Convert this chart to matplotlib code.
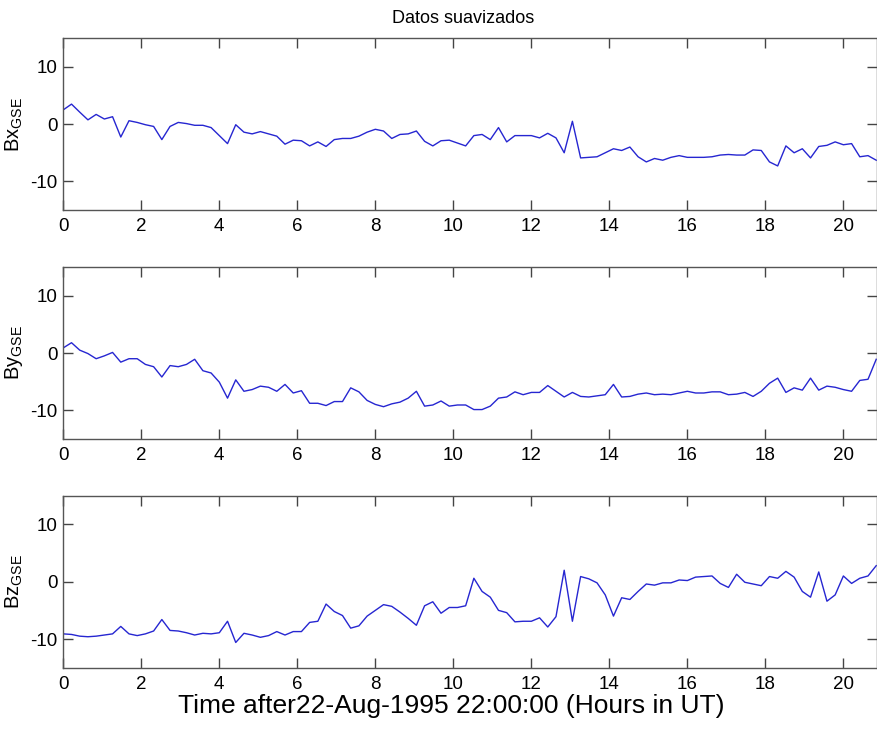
import numpy as np
import matplotlib
matplotlib.use("Agg")
import matplotlib.pyplot as plt

plt.rcParams['font.family'] = ['Liberation Sans', 'DejaVu Sans']
plt.rcParams['mathtext.fontset'] = 'custom'
plt.rcParams['mathtext.rm'] = 'Liberation Sans'
plt.rcParams['mathtext.it'] = 'Liberation Sans'
plt.rcParams['axes.unicode_minus'] = False

# Sampling grid (hours after start), 100 samples
hours = np.linspace(0.0, 20.85, 100)

bx = [2.5, 3.5, 2.1, 0.75, 1.7, 0.9, 1.3, -2.25, 0.6, 0.3,
      -0.1, -0.4, -2.7, -0.4, 0.3, 0.1, -0.2, -0.2, -0.6, -2.0,
      -3.4, -0.1, -1.4, -1.7, -1.3, -1.7, -2.1, -3.5, -2.8, -2.9,
      -3.8, -3.1, -3.9, -2.7, -2.5, -2.5, -2.1, -1.4, -0.9, -1.2,
      -2.5, -1.8, -1.7, -1.2, -3.0, -3.8, -2.9, -2.8, -3.3, -3.8,
      -2.0, -1.8, -2.7, -0.6, -3.1, -2.0, -2.0, -2.0, -2.4, -1.6,
      -2.4, -5.0, 0.5, -5.9, -5.8, -5.7, -5.0, -4.3, -4.6, -4.0,
      -5.7, -6.6, -6.0, -6.3, -5.8, -5.5, -5.8, -5.8, -5.8, -5.7,
      -5.4, -5.3, -5.4, -5.4, -4.5, -4.6, -6.6, -7.3, -3.8, -5.0,
      -4.3, -5.9, -3.9, -3.7, -3.1, -3.6, -3.4, -5.7, -5.5, -6.3]

by = [0.9, 1.8, 0.5, -0.1, -1.0, -0.5, 0.1, -1.6, -1.0, -1.0,
      -2.0, -2.4, -4.2, -2.2, -2.4, -2.0, -1.1, -3.1, -3.5, -5.1,
      -7.9, -4.7, -6.7, -6.4, -5.8, -6.0, -6.7, -5.5, -7.0, -6.6,
      -8.8, -8.8, -9.2, -8.5, -8.5, -6.1, -6.8, -8.3, -9.0, -9.4,
      -8.9, -8.6, -7.9, -6.7, -9.3, -9.1, -8.4, -9.3, -9.1, -9.1,
      -9.9, -9.9, -9.3, -7.9, -7.7, -6.8, -7.3, -6.9, -6.9, -5.7,
      -6.7, -7.7, -6.9, -7.6, -7.7, -7.5, -7.3, -5.5, -7.7, -7.6,
      -7.2, -7.0, -7.3, -7.2, -7.3, -7.0, -6.7, -7.0, -7.0, -6.8,
      -6.8, -7.3, -7.2, -6.9, -7.6, -6.7, -5.3, -4.4, -6.9, -6.1,
      -6.5, -4.4, -6.5, -5.8, -6.0, -6.4, -6.7, -4.8, -4.6, -1.1]

bz = [-9.1, -9.2, -9.5, -9.6, -9.5, -9.3, -9.1, -7.8, -9.1, -9.4,
      -9.1, -8.6, -6.6, -8.5, -8.6, -8.9, -9.3, -9.0, -9.1, -8.9,
      -6.9, -10.6, -9.0, -9.3, -9.7, -9.4, -8.7, -9.3, -8.7, -8.7,
      -7.1, -6.9, -3.9, -5.2, -5.9, -8.1, -7.7, -6.0, -5.0, -4.0,
      -4.3, -5.3, -6.4, -7.6, -4.2, -3.5, -5.5, -4.5, -4.5, -4.2,
      0.6, -1.7, -2.7, -5.0, -5.4, -7.0, -6.9, -6.9, -6.3, -7.9,
      -6.1, 2.0, -6.9, 0.9, 0.5, -0.2, -2.3, -6.0, -2.8, -3.1,
      -1.7, -0.4, -0.6, -0.2, -0.2, 0.3, 0.2, 0.8, 0.9, 1.0,
      -0.3, -1.0, 1.3, -0.1, -0.4, -0.7, 0.9, 0.6, 1.8, 0.8,
      -1.7, -2.7, 1.7, -3.4, -2.3, 1.0, -0.3, 0.6, 1.0, 2.8]

series = [bx, by, bz]
labels = [r'Bx$_{\mathrm{GSE}}$', r'By$_{\mathrm{GSE}}$', r'Bz$_{\mathrm{GSE}}$']
xticks = [0, 2, 4, 6, 8, 10, 12, 14, 16, 18, 20]
yticks = [-10, 0, 10]

W, H = 877, 729
fig = plt.figure(figsize=(W / 100, H / 100), dpi=100)

left = 63.3 / W
width = 1.0 - left
tops = [38.3, 267.3, 495.7]
bottoms = [210.0, 438.7, 667.7]

axes = []
for i in range(3):
    b = 1 - bottoms[i] / H
    h = (bottoms[i] - tops[i]) / H
    ax = fig.add_axes([left, b, width, h])
    ax.plot(hours, series[i], color=(0.15, 0.15, 0.82), lw=1.0)
    ax.set_xlim(0, 20.87)
    ax.set_ylim(-15, 15)
    ax.set_xticks(xticks)
    ax.set_yticks(yticks)
    ax.tick_params(direction='in', length=7, width=1, color='#444444',
                   top=True, right=True, labelsize=13.5,
                   labelcolor='black')
    ax.tick_params(axis='x', pad=6)
    ax.tick_params(axis='y', pad=4)
    for s in ax.spines.values():
        s.set_color('#555555')
        s.set_linewidth(1.0)
    ax.set_ylabel(labels[i], fontsize=14.5, labelpad=4)
    axes.append(ax)

axes[0].set_title('Datos suavizados', fontsize=13, pad=11)
axes[0].title.set_x((463 - 63.3) / (W - 63.3))
axes[2].set_xlabel('Time after22-Aug-1995 22:00:00 (Hours in UT)', fontsize=19, labelpad=1)
axes[2].xaxis.label.set_x((451.5 - 63.3) / (W - 63.3))

fig.savefig('out.png', dpi=100)
